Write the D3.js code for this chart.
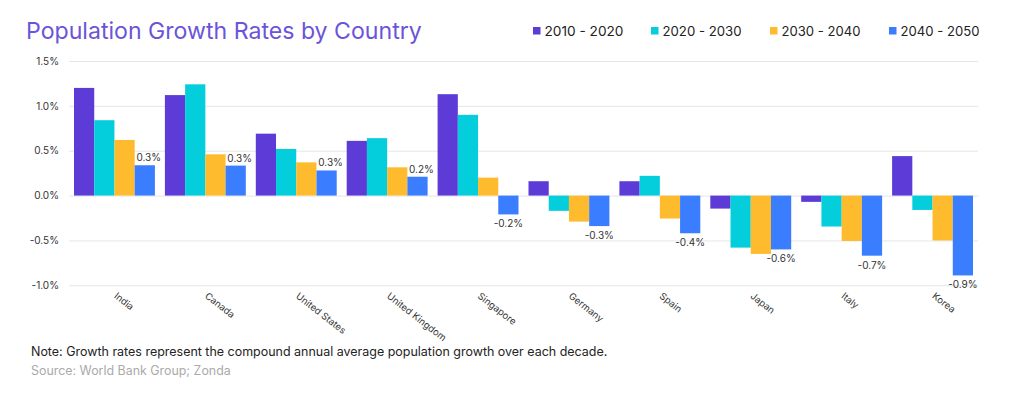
<!DOCTYPE html>
<html>
<head>
<meta charset="utf-8">
<script src="https://cdn.jsdelivr.net/npm/d3@7"></script>
<style>
  html, body { margin: 0; padding: 0; background: #fff; }
  svg { display: block; font-family: "Inter", "Noto Sans", sans-serif; }
</style>
</head>
<body>
<svg id="chart" width="1017" height="398"></svg>
<script>
const categories = ["India", "Canada", "United States", "United Kingdom", "Singapore", "Germany", "Spain", "Japan", "Italy", "Korea"];
const seriesNames = ["2010 - 2020", "2020 - 2030", "2030 - 2040", "2040 - 2050"];
const s2010_2020 = [1.20, 1.12, 0.69, 0.61, 1.13, 0.16, 0.16, -0.145, -0.07, 0.44];
const s2020_2030 = [0.84, 1.24, 0.52, 0.64, 0.90, -0.17, 0.22, -0.58, -0.345, -0.16];
const s2030_2040 = [0.62, 0.46, 0.37, 0.315, 0.20, -0.29, -0.256, -0.65, -0.506, -0.50];
const s2040_2050 = [0.338, 0.334, 0.28, 0.21, -0.21, -0.34, -0.42, -0.60, -0.67, -0.89];
const yTicks = [-1.0, -0.5, 0.0, 0.5, 1.0, 1.5];
const colors = ["#5c3bd6", "#05cedc", "#fdbb2d", "#3a7dff"];

const seriesValues = [s2010_2020, s2020_2030, s2030_2040, s2040_2050];
const svg = d3.select("#chart");
const pct = d => d3.format(".1f")(d).replace("\u2212", "-") + "%";

const x0 = d3.scaleBand().domain(categories).range([69, 978]).paddingInner(0.11).paddingOuter(0.055);
const x1 = d3.scaleBand().domain(seriesNames).range([0, x0.bandwidth()]).padding(0);
const y = d3.scaleLinear().domain([-1.0, 1.5]).range([285.3, 61]);

function fitWidth(sel, target) {
  const node = sel.node();
  const w = node.getComputedTextLength();
  const fs = parseFloat(sel.attr("font-size"));
  sel.attr("font-size", (fs * target / w).toFixed(2));
}

// Title
const title = svg.append("text").attr("x", 26).attr("y", 38.5)
  .attr("font-size", 22).attr("fill", "#6b54d9").attr("font-weight", 400)
  .text("Population Growth Rates by Country");
fitWidth(title, 396);

// Legend
const legendX = [533, 651, 770, 889];
const legend = svg.append("g");
seriesNames.forEach((name, i) => {
  legend.append("rect").attr("x", legendX[i]).attr("y", 27).attr("width", 7.5).attr("height", 7.5).attr("fill", colors[i]);
  const t = legend.append("text").attr("x", legendX[i] + 11.5).attr("y", 31).attr("dy", "0.36em")
    .attr("font-size", 13).attr("fill", "#222").text(name);
  fitWidth(t, 79);
});

// Grid + y axis
const yAxis = d3.axisLeft(y).tickValues(yTicks).tickSize(-(978 - 69))
  .tickFormat(pct).tickPadding(10);
const gy = svg.append("g").attr("transform", "translate(69,0)").call(yAxis);
gy.select(".domain").remove();
gy.selectAll(".tick line").attr("stroke", "#e6e6e6").attr("stroke-width", 1);
gy.selectAll(".tick text").attr("font-size", 10).attr("fill", "#333").attr("font-family", "Inter, sans-serif");

// Bars
const groups = svg.append("g").selectAll("g").data(categories).join("g")
  .attr("transform", d => `translate(${x0(d)},0)`);
groups.selectAll("rect")
  .data((c, ci) => seriesNames.map((s, si) => ({ s, si, v: seriesValues[si][ci] })))
  .join("rect")
  .attr("x", d => x1(d.s))
  .attr("width", x1.bandwidth())
  .attr("y", d => y(Math.max(0, d.v)))
  .attr("height", d => Math.abs(y(d.v) - y(0)))
  .attr("fill", d => colors[d.si]);

// Value labels on last series
groups.append("text")
  .datum((c, ci) => s2040_2050[ci])
  .attr("x", d => x1(seriesNames[3]) + x1.bandwidth() / 2 + (d >= 0 ? 4 : 0))
  .attr("y", d => d >= 0 ? y(d) - 4 : y(d) + 13)
  .attr("text-anchor", "middle")
  .attr("font-size", 10).attr("fill", "#333")
  .text(pct);

// X axis labels
const xAxis = d3.axisBottom(x0).tickSize(0).tickPadding(0);
const gx = svg.append("g").attr("transform", "translate(0,285.3)").call(xAxis);
gx.select(".domain").remove();
gx.selectAll(".tick text")
  .attr("font-size", 9.5).attr("fill", "#333").attr("font-family", "Inter, sans-serif")
  .attr("text-anchor", "start").attr("dy", 0).attr("y", 0)
  .attr("transform", "translate(-1,12) rotate(38)");

// Footnotes
const note = svg.append("text").attr("x", 31).attr("y", 356).attr("font-size", 12.5).attr("fill", "#222")
  .text("Note: Growth rates represent the compound annual average population growth over each decade.");
fitWidth(note, 577);
const src = svg.append("text").attr("x", 31).attr("y", 374.5).attr("font-size", 11.5).attr("fill", "#aaa")
  .text("Source: World Bank Group; Zonda");
fitWidth(src, 200);
</script>
</body>
</html>
